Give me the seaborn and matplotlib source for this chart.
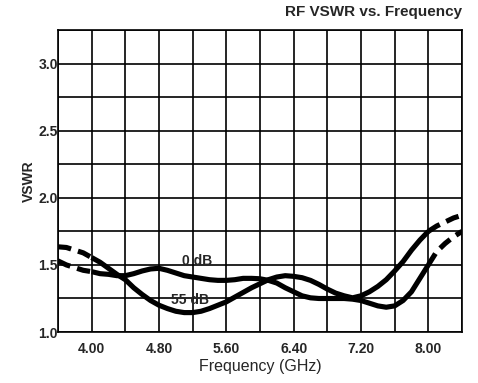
import numpy as np
import pandas as pd
import seaborn as sns
import matplotlib
matplotlib.use('Agg')
from matplotlib import pyplot as plt

# frequency points (GHz)
freq_left = [3.6, 3.7, 3.8, 3.9, 4.0]
freq_mid = [4.0, 4.1, 4.2, 4.3, 4.4, 4.5, 4.6, 4.7, 4.8, 4.9,
            5.0, 5.1, 5.2, 5.3, 5.4, 5.5, 5.6, 5.7, 5.8, 5.9,
            6.0, 6.1, 6.2, 6.3, 6.4, 6.5, 6.6, 6.7, 6.8, 6.9,
            7.0, 7.1, 7.2, 7.3, 7.4, 7.5, 7.6, 7.7, 7.8, 7.9, 8.0]
freq_right = [8.0, 8.1, 8.2, 8.3, 8.4]

# 0 dB curve
vswr_0db_left = [1.53, 1.50, 1.48, 1.46, 1.45]
vswr_0db_mid = [1.45, 1.435, 1.43, 1.42, 1.42, 1.435, 1.455, 1.47, 1.475, 1.46,
                1.44, 1.42, 1.41, 1.40, 1.39, 1.385, 1.385, 1.39, 1.40, 1.40,
                1.397, 1.385, 1.365, 1.33, 1.30, 1.27, 1.255, 1.25, 1.25, 1.25,
                1.25, 1.245, 1.235, 1.215, 1.195, 1.185, 1.195, 1.235, 1.30, 1.40, 1.50]
vswr_0db_right = [1.50, 1.60, 1.66, 1.71, 1.75]

# 55 dB curve
vswr_55db_left = [1.635, 1.63, 1.61, 1.59, 1.555]
vswr_55db_mid = [1.555, 1.52, 1.475, 1.43, 1.39, 1.33, 1.28, 1.235, 1.20, 1.175,
                 1.155, 1.145, 1.145, 1.155, 1.175, 1.20, 1.225, 1.26, 1.295, 1.33,
                 1.36, 1.39, 1.41, 1.42, 1.415, 1.405, 1.385, 1.355, 1.32, 1.29,
                 1.27, 1.255, 1.27, 1.30, 1.34, 1.39, 1.455, 1.525, 1.61, 1.685, 1.75]
vswr_55db_right = [1.75, 1.79, 1.82, 1.85, 1.87]

x_ticks = [4.0, 4.8, 5.6, 6.4, 7.2, 8.0]
x_labels = ['4.00', '4.80', '5.60', '6.40', '7.20', '8.00']
y_ticks = [1.0, 1.5, 2.0, 2.5, 3.0]
y_labels = ['1.0', '1.5', '2.0', '2.5', '3.0']
x_grid = [3.6, 4.0, 4.4, 4.8, 5.2, 5.6, 6.0, 6.4, 6.8, 7.2, 7.6, 8.0, 8.4]
y_grid = [1.0, 1.25, 1.5, 1.75, 2.0, 2.25, 2.5, 2.75, 3.0, 3.25]

sns.set_theme(style='white')
plt.rcParams['font.family'] = ['Liberation Sans', 'DejaVu Sans']

fig = plt.figure(figsize=(4.78, 3.83), dpi=100)
ax = fig.add_axes([0.1213, 0.133, 0.8452, 0.7887])

for xv in x_grid:
    ax.axvline(xv, color='black', lw=1.2, zorder=1)
for yv in y_grid:
    ax.axhline(yv, color='black', lw=1.2, zorder=1)

dash = (0, (2.6, 1.4))
curves = [
    (freq_left, vswr_0db_left, dash),
    (freq_mid, vswr_0db_mid, '-'),
    (freq_right, vswr_0db_right, dash),
    (freq_left, vswr_55db_left, dash),
    (freq_mid, vswr_55db_mid, '-'),
    (freq_right, vswr_55db_right, dash),
]
for fx, fy, ls in curves:
    sns.lineplot(x=fx, y=fy, ax=ax, color='black', lw=3.7, linestyle=ls,
                 solid_capstyle='butt', zorder=3)

ax.text(5.25, 1.53, '0 dB', fontsize=10, fontweight='bold', ha='center', va='center', zorder=4)
ax.text(5.17, 1.24, '55 dB', fontsize=10, fontweight='bold', ha='center', va='center', zorder=4)

ax.set_xlim(3.6, 8.4)
ax.set_ylim(1.0, 3.25)
ax.set_xticks(x_ticks)
ax.set_xticklabels(x_labels, fontsize=10, fontweight='bold')
ax.tick_params(axis='both', length=0)
ax.set_yticks(y_ticks)
ax.set_yticklabels(y_labels, fontsize=10, fontweight='bold')
ax.tick_params(axis='x', pad=7)
ax.tick_params(axis='y', pad=0)
for sp in ax.spines.values():
    sp.set_color('black')
    sp.set_linewidth(1.2)

ax.set_xlabel('Frequency (GHz)', fontsize=11.5, labelpad=2)
ax.set_ylabel('VSWR', fontsize=10, fontweight='bold', labelpad=2)

fig.text(0.9665, 1 - 12 / 383, 'RF VSWR vs. Frequency', fontsize=11, fontweight='bold',
         ha='right', va='center')

fig.savefig('out.png', dpi=100)
plt.close()
